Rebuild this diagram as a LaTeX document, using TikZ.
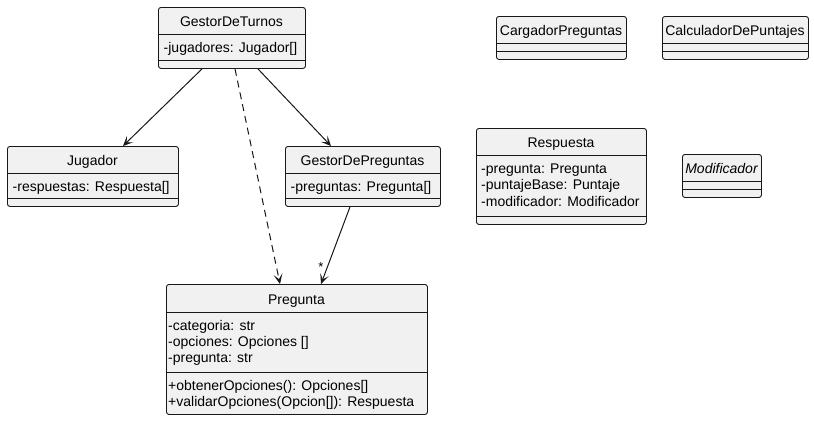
\documentclass[tikz,border=0pt]{standalone}
\usepackage{fontspec}
\setmainfont{Liberation Sans}
\usetikzlibrary{arrows.meta}
\definecolor{linec}{HTML}{181818}
\definecolor{boxfill}{HTML}{F1F1F1}
\begin{document}
\begin{tikzpicture}[x=1pt,y=-1pt,
  classbox/.style={draw=linec, fill=boxfill, rounded corners=2.5pt, line width=0.9pt, inner sep=0pt, anchor=north west},
  ctitle/.style={anchor=base, inner sep=0pt, font=\fontsize{14}{16}\selectfont},
  member/.style={anchor=base west, inner sep=0pt, font=\fontsize{14}{16}\selectfont},
  divider/.style={draw=linec, line width=0.9pt},
  assoc/.style={draw=linec, line width=1pt, -{Stealth[length=10pt,width=9pt,inset=5pt]}},
  depend/.style={assoc, dash pattern=on 7pt off 5pt},
  mult/.style={inner sep=0pt, font=\fontsize{13}{15}\selectfont}
]
\useasboundingbox[fill=white] (0,0) rectangle (814,421);

% GestorDeTurnos
\node[classbox, minimum width=147pt, minimum height=61pt] (gt) at (158,7) {};
\node[ctitle] (gtt) at (231.5,26) {GestorDeTurnos};
\draw[divider] (158,34) -- (305,34);
\node[member] (gta) at (163.5,52.5) {-jugadores: Jugador[]};
\draw[divider] (158,60) -- (305,60);

% Jugador
\node[classbox, minimum width=171pt, minimum height=60pt] (jug) at (7,146) {};
\node[ctitle] (jugt) at (92.5,165) {Jugador};
\draw[divider] (7,173) -- (178,173);
\node[member] (juga) at (12.5,191) {-respuestas: Respuesta[]};
\draw[divider] (7,198) -- (178,198);

% GestorDePreguntas
\node[classbox, minimum width=155pt, minimum height=60pt] (gdp) at (285,146) {};
\node[ctitle] (gdpt) at (362.5,165) {GestorDePreguntas};
\draw[divider] (285,173) -- (440,173);
\node[member] (gdpa) at (290.5,191) {-preguntas: Pregunta[]};
\draw[divider] (285,198) -- (440,198);

% Pregunta
\node[classbox, minimum width=261pt, minimum height=130pt] (preg) at (166,284) {};
\node[ctitle] (pregt) at (296.5,304) {Pregunta};
\draw[divider] (166,312) -- (427,312);
\node[member] (prega1) at (168,330) {-categoria: str};
\node[member] (prega2) at (168,346.3) {-opciones: Opciones []};
\node[member] (prega3) at (168,362.6) {-pregunta: str};
\draw[divider] (166,372) -- (427,372);
\node[member] (pregm1) at (168,390) {+obtenerOpciones(): Opciones[]};
\node[member] (pregm2) at (168,406.3) {+validarOpciones(Opcion[]): Respuesta};

% CargadorPreguntas
\node[classbox, minimum width=130pt, minimum height=43pt] (cp) at (496,16) {};
\node[ctitle] (cpt) at (561,35) {CargadorPreguntas};
\draw[divider] (496,43) -- (626,43);
\draw[divider] (496,51) -- (626,51);

% CalculadorDePuntajes
\node[classbox, minimum width=146pt, minimum height=43pt] (cdp) at (662,16) {};
\node[ctitle] (cdpt) at (735,35) {CalculadorDePuntajes};
\draw[divider] (662,43) -- (808,43);
\draw[divider] (662,51) -- (808,51);

% Respuesta
\node[classbox, minimum width=170pt, minimum height=96pt] (resp) at (476,128) {};
\node[ctitle] (respt) at (561,147) {Respuesta};
\draw[divider] (476,155) -- (646,155);
\node[member] (respa1) at (481,173) {-pregunta: Pregunta};
\node[member] (respa2) at (481,189.5) {-puntajeBase: Puntaje};
\node[member] (respa3) at (481,206) {-modificador: Modificador};
\draw[divider] (476,216.5) -- (646,216.5);

% Modificador
\node[classbox, minimum width=79pt, minimum height=43pt] (mod) at (682,154) {};
\node[ctitle, font=\fontsize{14}{16}\selectfont\itshape] (modt) at (721.5,173) {Modificador};
\draw[divider] (682,181) -- (761,181);
\draw[divider] (682,189) -- (761,189);

% Connectors
\draw[assoc] ([xshift=44pt]gt.south west) -- ([xshift=116pt]jug.north west);
\draw[assoc] ([xshift=100pt]gt.south west) -- ([xshift=46pt]gdp.north west);
\draw[depend] ([xshift=77pt]gt.south west) -- ([xshift=114pt]preg.north west);
\draw[assoc] ([xshift=65pt]gdp.south west) -- ([xshift=155pt]preg.north west);
\node[mult] (star) at (321,267) {*};
\end{tikzpicture}
\end{document}
